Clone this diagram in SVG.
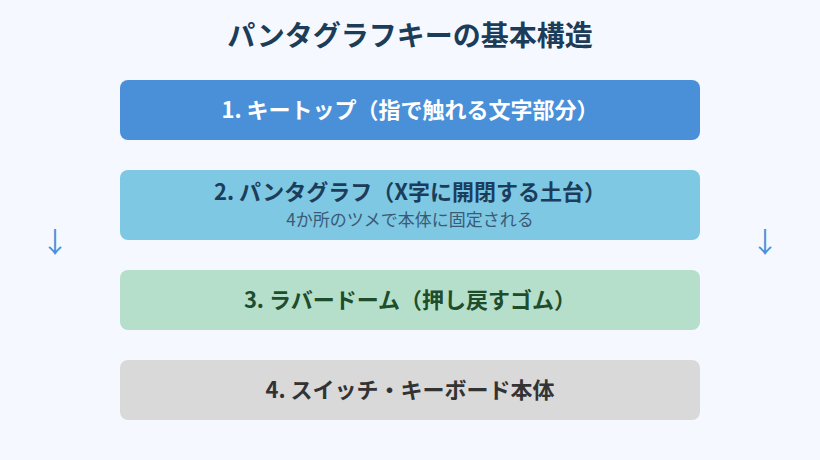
<svg xmlns="http://www.w3.org/2000/svg" width="820" height="460" viewBox="0 0 820 460">
<style>
text{font-family:"Noto Sans CJK JP","Noto Sans",sans-serif;text-anchor:middle}
.t{font-size:22px;font-weight:bold}
.title{font-size:28px;font-weight:bold;fill:#1c3d5a}
.sub{font-size:17px;fill:#3b5a75}
.arr{font-size:28px;fill:#4a90d9}
</style>
<rect width="820" height="460" fill="#f5f9ff"/>
<text class="title" x="410" y="46">パンタグラフキーの基本構造</text>
<g id="n1"><rect x="120" y="80" width="580" height="60" rx="8" fill="#4a90d9"/><text class="t" x="410" y="118" fill="#ffffff">1. キートップ（指で触れる文字部分）</text></g>
<g id="n2"><rect x="120" y="170" width="580" height="70" rx="8" fill="#7ec8e3"/><text class="t" x="410" y="200" fill="#1c3d5a">2. パンタグラフ（X字に開閉する土台）</text><text class="sub" x="410" y="226">4か所のツメで本体に固定される</text></g>
<g id="n3"><rect x="120" y="270" width="580" height="60" rx="8" fill="#b5dfca"/><text class="t" x="410" y="308" fill="#1e4d2b">3. ラバードーム（押し戻すゴム）</text></g>
<g id="n4"><rect x="120" y="360" width="580" height="60" rx="8" fill="#d9d9d9"/><text class="t" x="410" y="398" fill="#333333">4. スイッチ・キーボード本体</text></g>
<g id="connectors"><text class="arr" x="55" y="253">↓</text><text class="arr" x="765" y="253">↓</text></g>
</svg>
